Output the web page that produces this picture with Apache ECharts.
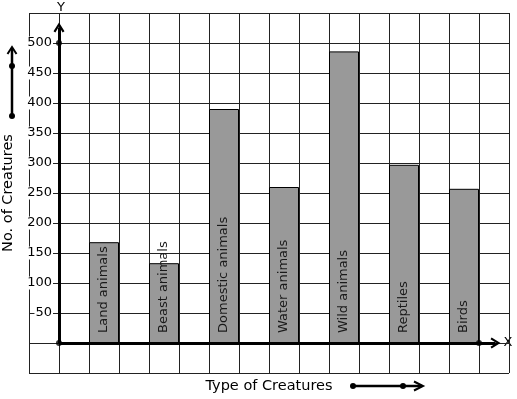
<!DOCTYPE html>
<html>
	<head>
		<meta charset="utf-8">
		<title>Type of Creatures</title>
		<script src="https://cdn.jsdelivr.net/npm/echarts@6/dist/echarts.min.js"></script>
		<style>
			html, body { margin: 0; padding: 0; background: #fff; }
			#chart { width: 517px; height: 399px; }
		</style>
	</head>
	<body>
		<div id="chart"></div>
		<script>
			// data
			var categories = ['Land animals', 'Beast animals', 'Domestic animals', 'Water animals', 'Wild animals', 'Reptiles', 'Birds'];
			var values = [168, 133, 390, 260, 486, 297, 257];
			var yTicks = [50, 100, 150, 200, 250, 300, 350, 400, 450, 500];

			// graph paper: 16 columns, a bar in every second one starting at the 3rd
			var slotCount = 16;
			var slots = [], slotValues = [];
			for (var i = 0; i < slotCount; i++) { slots.push('c' + i); slotValues.push('-'); }
			categories.forEach(function (name, k) {
				slots[2 + 2 * k] = name;
				slotValues[2 + 2 * k] = values[k];
			});

			var font = 'DejaVu Sans';
			// open chevron pointing up, used as arrow head
			var chevron = 'path://M5,0 L10,8 L8.3,9 L5,3.6 L1.7,9 L0,8 Z';

			var chart = echarts.init(document.getElementById('chart'));
			var option = {
				animation: false,
				textStyle: { fontFamily: font },
				grid: { left: 29, top: 13, width: 480, height: 360, outerBoundsMode: 'none', containLabel: false },
				xAxis: [{
					type: 'category',
					data: slots,
					boundaryGap: true,
					name: 'Type of Creatures',
					nameLocation: 'middle',
					nameGap: 6,
					nameTextStyle: { fontFamily: font, fontSize: 14.5, color: '#000' },
					axisLine: { show: false },
					axisTick: { show: false },
					axisLabel: { show: false },
					splitLine: { show: true, interval: 0, lineStyle: { color: '#222', width: 1 } }
				}, {
					// helper axis: 0 sits on the Y axis, one unit per column
					type: 'value',
					min: -1,
					max: 15,
					show: false
				}],
				yAxis: {
					type: 'value',
					min: -50,
					max: 550,
					interval: 50,
					name: 'No. of Creatures',
					nameLocation: 'middle',
					nameGap: 11,
					nameTextStyle: { fontFamily: font, fontSize: 14.5, color: '#000' },
					axisLine: { show: false },
					axisTick: { show: false },
					axisLabel: {
						inside: true,
						align: 'right',
						margin: 24,
						fontFamily: font,
						fontSize: 13,
						color: '#000',
						backgroundColor: '#fff',
						padding: [0, 1],
						formatter: function (v) { return yTicks.indexOf(v) >= 0 ? String(v) : ''; }
					},
					splitLine: { show: true, lineStyle: { color: '#222', width: 1 } }
				},
				series: [{
					type: 'bar',
					data: slotValues,
					barCategoryGap: '0%',
					itemStyle: { color: '#999999', borderColor: '#000', borderWidth: 1 },
					label: {
						show: true,
						position: 'insideBottom',
						rotate: 90,
						align: 'left',
						verticalAlign: 'middle',
						distance: 10,
						fontFamily: font,
						fontSize: 13,
						color: '#1a1a1a',
						formatter: function (p) { return p.name; }
					}
				}, {
					// the X and Y axes with their dots and arrows
					type: 'scatter',
					xAxisIndex: 1,
					z: 5,
					data: [[0, 500], [0, 0], [14, 0]],
					symbolSize: 6,
					itemStyle: { color: '#000' },
					silent: true,
					markLine: {
						silent: true,
						symbol: ['none', chevron],
						symbolSize: [11, 10],
						label: { show: false },
						lineStyle: { color: '#000', width: 3, type: 'solid' },
						data: [
							[{ coord: [0, 0] }, { coord: [0, 526] }],
							[{ coord: [0, 0] }, { coord: [14.55, 0] }]
						]
					}
				}],
				graphic: [
					{ type: 'text', x: 61, y: 8, style: { text: 'Y', font: '13px "DejaVu Sans"', fill: '#000', align: 'center', verticalAlign: 'middle', backgroundColor: '#fff' } },
					{ type: 'text', x: 508, y: 343, style: { text: 'X', font: '13px "DejaVu Sans"', fill: '#000', align: 'center', verticalAlign: 'middle' } },
					// arrow beside the y axis name
					{ type: 'polyline', shape: { points: [[12, 116], [12, 48]] }, style: { stroke: '#000', lineWidth: 2.5 } },
					{ type: 'polyline', shape: { points: [[7.5, 54], [12, 47], [16.5, 54]] }, style: { stroke: '#000', lineWidth: 2, fill: null } },
					{ type: 'circle', shape: { cx: 12, cy: 116, r: 3 }, style: { fill: '#000' } },
					{ type: 'circle', shape: { cx: 12, cy: 66, r: 3 }, style: { fill: '#000' } },
					// arrow beside the x axis name
					{ type: 'polyline', shape: { points: [[353, 386], [422, 386]] }, style: { stroke: '#000', lineWidth: 2.5 } },
					{ type: 'polyline', shape: { points: [[414, 381.5], [423, 386], [414, 390.5]] }, style: { stroke: '#000', lineWidth: 2, fill: null } },
					{ type: 'circle', shape: { cx: 353, cy: 386, r: 3 }, style: { fill: '#000' } },
					{ type: 'circle', shape: { cx: 403, cy: 386, r: 3 }, style: { fill: '#000' } }
				]
			};
			chart.setOption(option);
		</script>
	</body>
</html>
